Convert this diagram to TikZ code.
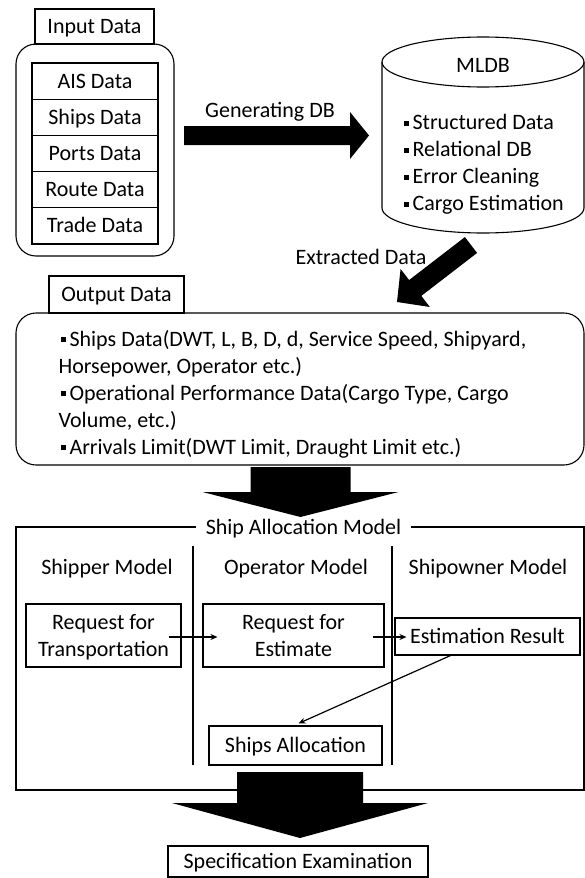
\documentclass[tikz,border=0pt]{standalone}
\usepackage{fontspec}
\setmainfont{Carlito}
\usetikzlibrary{calc,arrows.meta}

% small square bullet of the item lists
\newcommand\bul{\hspace{2pt}\rule[4pt]{5pt}{5pt}\hspace{4pt}}

% block arrow: tail, tip, half shaft, half head, head length
\newcommand\blkarrow[5]{%
  \path ($(#2)!#5!(#1)$) coordinate (hb);
  \fill ($(#1)!#3!90:(#2)$) -- ($(hb)!#3!-90:(#1)$) -- ($(hb)!#4!-90:(#1)$)
    -- (#2) -- ($(hb)!#4!90:(#1)$) -- ($(hb)!#3!90:(#1)$) -- ($(#1)!#3!-90:(#2)$) -- cycle;}

\begin{document}
\begin{tikzpicture}[x=1pt, y=1pt, line width=1.1pt, >={Stealth[length=7pt,width=6pt]},
  font=\fontsize{22pt}{27pt}\selectfont,
  box/.style={draw, inner sep=0pt, text height=14pt, text depth=0pt, align=center},
  txt/.style={inner sep=0pt, text height=14pt, text depth=0pt},
  link/.style={->, line width=1.2pt}]

  \useasboundingbox (0,0) rectangle (585,-878);

  % input data
  \node[draw, rounded corners=20pt, minimum width=158pt, minimum height=212pt] (inbox) at (95,-150) {};
  \node[box, minimum width=119pt, minimum height=35pt] (intab) at (94.5,-26.5) {Input Data};
  \foreach \lbl [count=\i] in {AIS Data, Ships Data, Ports Data, Route Data, Trade Data}
    \node[box, minimum width=126pt, minimum height=36.2pt] (in\i) at (95,{-63-36.2*(\i-0.5)}) {\lbl};

  % MLDB cylinder
  \draw (382,-62) -- (382,-208) arc[start angle=180, end angle=360, x radius=101, y radius=25] -- (584,-62);
  \draw (483,-62) ellipse [x radius=101, y radius=25];
  \node[txt] (mldb) at (483,-65) {MLDB};
  \node[txt, text height=95pt, align=left, anchor=west] (mlitems) at (401,-163)
    {\bul Structured Data\\ \bul Relational DB\\ \bul Error Cleaning\\ \bul Cargo Estimation};

  % generating DB
  \coordinate (gen-s) at (184,-135.5);
  \coordinate (gen-t) at (369,-135.5);
  \blkarrow{gen-s}{gen-t}{9.5pt}{23.5pt}{19pt}
  \node[txt] (genlbl) at (270,-110) {Generating DB};

  % extracted data
  \coordinate (ext-s) at (471,-245);
  \coordinate (ext-t) at (397,-302);
  \blkarrow{ext-s}{ext-t}{10pt}{24pt}{23pt}
  \node[txt] (extlbl) at (361,-257) {Extracted Data};

  % output data
  \node[box, minimum width=135pt, minimum height=37pt] (outtab) at (116.5,-294.5) {Output Data};
  \node[draw, rounded corners=20pt, minimum width=568pt, minimum height=152pt] (outbox) at (300,-389) {};
  \node[txt, text height=122pt, align=left, anchor=west] (outitems) at (58,-393)
    {\bul Ships Data(DWT, L, B, D, d, Service Speed, Shipyard,\\
     Horsepower, Operator etc.)\\
     \bul Operational Performance Data(Cargo Type, Cargo\\
     Volume, etc.)\\
     \bul Arrivals Limit(DWT Limit, Draught Limit etc.)};

  % ship allocation model
  \node[draw, minimum width=568pt, minimum height=263pt] (samframe) at (300,-658.5) {};
  \node[txt, fill=white, inner xsep=10pt, inner ysep=2pt] (samlbl) at (303.5,-527) {Ship Allocation Model};
  \coordinate (out-s) at (300.5,-467);
  \coordinate (out-t) at (300.5,-517);
  \blkarrow{out-s}{out-t}{50pt}{98pt}{25pt}

  \draw (193,-546) -- (193,-765);
  \draw (392,-546) -- (392,-765);
  \node[txt] (shipper) at (107,-567) {Shipper Model};
  \node[txt] (operator) at (296,-567) {Operator Model};
  \node[txt] (shipowner) at (488,-567) {Shipowner Model};

  \node[box, text height=41pt, minimum width=155pt, minimum height=63pt] (rft) at (103.5,-635.5) {Request for\\Transportation};
  \node[box, text height=41pt, minimum width=181pt, minimum height=63pt] (rfe) at (293.5,-635.5) {Request for\\Estimate};
  \node[box, minimum width=185pt, minimum height=37pt] (er) at (487.5,-636.5) {Estimation Result};
  \node[box, minimum width=173pt, minimum height=39pt] (sa) at (295.5,-745.5) {Ships Allocation};

  \draw[link] ($(rft.east)+(-13,-1.5)$) -- ($(rfe.west)+(15,-1.5)$);
  \draw[link] ($(rfe.east)+(-12,-1.5)$) -- ($(er.west)+(12,-0.5)$);
  \draw[link] ($(er.south)+(-37,0)$) -- ($(sa.north)+(3,2)$);

  % specification examination
  \coordinate (sam-s) at (300,-772);
  \coordinate (sam-t) at (300,-838);
  \blkarrow{sam-s}{sam-t}{63pt}{128pt}{35pt}
  \node[box, minimum width=260pt, minimum height=31pt] (spec) at (298,-861.5) {Specification Examination};
\end{tikzpicture}
\end{document}
